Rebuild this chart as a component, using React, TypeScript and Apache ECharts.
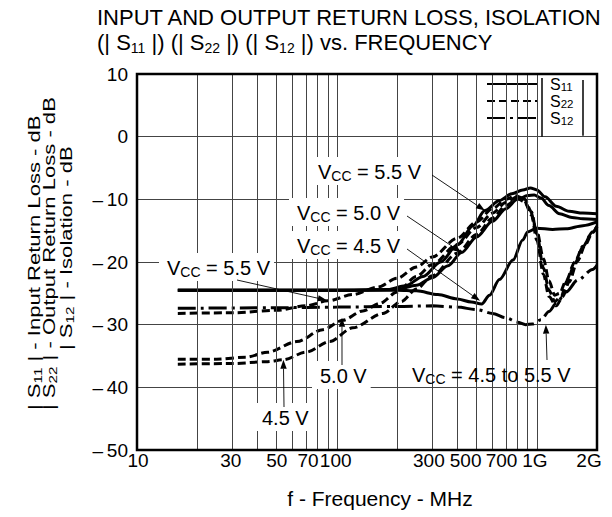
import React, { useEffect, useRef } from "react";
import * as echarts from "echarts";

const FONT = "'Liberation Sans', Arial, Helvetica, sans-serif";

type Pt = [number, number];

// frequency (MHz), level (dB)
const s11Vcc55: Pt[] = [[16,-24.5],[100,-24.5],[180,-24.4],[220,-23.8],[270,-22.3],[330,-20],[400,-17.3],[480,-14.2],[550,-11.8],[650,-10.2],[750,-9.1],[850,-8.5],[930,-8.2],[1000,-8.5],[1100,-9.6],[1250,-11.1],[1450,-11.9],[1700,-12.2],[2000,-12.3]];
const s11Vcc50: Pt[] = [[16,-24.5],[100,-24.5],[200,-24.4],[250,-23.7],[300,-22.5],[360,-20.6],[420,-18.5],[500,-16],[600,-13.5],[700,-11.5],[800,-10],[900,-9.4],[970,-9.3],[1050,-9.8],[1150,-11],[1300,-12.3],[1500,-12.9],[1700,-13.1],[2000,-13.2]];
const s11Vcc45: Pt[] = [[16,-24.5],[100,-24.5],[200,-24.5],[250,-24.6],[320,-25.2],[400,-25.9],[470,-26.4],[530,-26.7],[580,-25.3],[650,-22.8],[760,-19.7],[850,-16.5],[900,-15.2],[1000,-14.6],[1200,-14.8],[1400,-14.7],[1700,-14.2],[2000,-13.6]];
const s22Vcc55: Pt[] = [[16,-28.2],[30,-28.1],[50,-27.7],[70,-27],[90,-26.2],[120,-25.2],[160,-24],[200,-22.6],[250,-20.8],[300,-19.2],[400,-16.2],[500,-13.6],[600,-11.5],[700,-10],[780,-9.4],[850,-9.8],[920,-11.5],[1000,-15],[1080,-19.5],[1150,-23],[1230,-25.3],[1300,-25],[1400,-23],[1550,-20],[1700,-17.5],[1900,-15.2],[2000,-14.3]];
const s22Vcc50: Pt[] = [[16,-35.5],[25,-35.5],[35,-35.2],[45,-34.4],[63,-32.7],[85,-30.8],[107,-29.3],[135,-27.8],[164,-26.6],[200,-24.8],[250,-22.3],[300,-20.4],[400,-17.2],[500,-14.5],[600,-12.2],[700,-10.5],[800,-9.6],[870,-10],[940,-12],[1000,-15.5],[1080,-21],[1150,-24.5],[1230,-26.3],[1320,-25.5],[1420,-23],[1550,-20.2],[1700,-17.6],[1900,-15.2],[2000,-14.3]];
const s22Vcc45: Pt[] = [[16,-36.3],[30,-36.2],[45,-35.9],[54,-35.6],[70,-34.4],[92,-32.7],[120,-30.5],[170,-28.2],[210,-26.3],[250,-24.3],[300,-22.2],[400,-18.6],[500,-15.6],[600,-13],[700,-11],[800,-9.9],[870,-10.4],[940,-12.5],[1000,-16.5],[1080,-22],[1150,-25.5],[1250,-27],[1350,-25.5],[1450,-23.2],[1600,-19.8],[1750,-17.2],[1900,-15.3],[2000,-14.4]];
const s12All: Pt[] = [[16,-27.4],[50,-27.3],[100,-27.2],[200,-27.1],[300,-27],[400,-27.2],[500,-27.6],[600,-28.2],[700,-28.9],[800,-29.6],[880,-30],[950,-29.9],[1050,-29.2],[1150,-27.9],[1250,-26.6],[1400,-24.8],[1600,-22.9],[1900,-21.2],[2000,-20.5]];

const xMin = 10;
const xMax = 2000;
const yMin = -50;
const yMax = 10;
const yStep = 10;
const xGridValues = [20, 30, 40, 50, 60, 70, 80, 90, 100, 200, 300, 400, 500, 600, 700, 800, 900, 1000];
const xTickValues = [10, 30, 50, 70, 100, 300, 500, 700, 1000, 2000];
const xTickLabels = ["10", "30", "50", "70", "100", "300", "500", "700", "1G", "2G"];
const legendNames = ["S11", "S22", "S12"];

// annotation texts and the data point each arrow points to
const annTexts = ["5.5 V", "5.0 V", "4.5 V", "5.5 V", "5.0 V", "4.5 V", "4.5 to 5.5 V"];
const annTips: Pt[] = [[550, -11.8], [420, -18.5], [520, -26.2], [89, -26.1], [106, -28.9], [54, -35.6], [1110, -30]];

// layout (pixels) for annotations: text left, text center y, leader start x,y, vcc prefix, white box
const annLayout = [
  { x: 318, y: 171, sx: 432, sy: 175, vcc: true, box: true },
  { x: 297, y: 212, sx: 407, sy: 216, vcc: true, box: true },
  { x: 297, y: 245, sx: 407, sy: 249, vcc: true, box: true },
  { x: 167, y: 267, sx: 237, sy: 280, vcc: true, box: true },
  { x: 320, y: 375, sx: 342, sy: 365, vcc: false, box: true },
  { x: 262, y: 417, sx: 284, sy: 407, vcc: false, box: true },
  { x: 412, y: 375, sx: 547, sy: 360, vcc: true, box: false },
];
const xTickNudge = [1, -1.6, 0, 2, -1.2, -3.4, -11, -4.3, -2, -8];

export default function App() {
  const ref = useRef<HTMLDivElement>(null);

  useEffect(() => {
    document.body.style.margin = "0";
    const el = ref.current!;
    const chart = echarts.init(el, undefined, { renderer: "svg" });

    const mk = (name: string, data: Pt[], type: any) => ({
      type: "line",
      name,
      data,
      symbol: "none",
      showSymbol: false,
      smooth: 0.3,
      smoothMonotone: "x",
      silent: true,
      z: 3,
      itemStyle: { color: "#000" },
      lineStyle: { color: "#000", width: 3, type, cap: "butt" },
    });
    const dash = [8, 4];
    const dashDot = [18, 5, 3, 5];

    chart.setOption({
      animation: false,
      title: {
        left: 97,
        top: 5,
        padding: 0,
        text:
          "{t|INPUT AND OUTPUT RETURN LOSS, ISOLATION}\n{t|(| S}{s|11}{t| |) (| S}{s|22}{t| |) (| S}{s|12}{t| |) vs. FREQUENCY}",
        textStyle: {
          fontWeight: "normal",
          rich: {
            t: { fontSize: 22, fontFamily: FONT, fontWeight: "normal", color: "#000", lineHeight: 25 },
            s: { fontSize: 14, fontFamily: FONT, fontWeight: "normal", color: "#000", lineHeight: 16, verticalAlign: "bottom" },
          },
        },
      },
      grid: { left: 137, top: 74, width: 460, height: 376, containLabel: false },
      xAxis: {
        type: "log",
        logBase: 10,
        min: xMin,
        max: xMax,
        axisLabel: { show: false },
        axisTick: { show: false },
        axisLine: { show: false },
        splitLine: { show: false },
      },
      yAxis: {
        type: "value",
        min: yMin,
        max: yMax,
        interval: yStep,
        axisTick: { show: false },
        axisLine: { show: false },
        axisLabel: {
          color: "#000",
          fontSize: 19,
          fontFamily: FONT,
          margin: 9,
          formatter: (v: number) => (v < 0 ? "\u2013\u2009" + Math.abs(v) : String(v)),
        },
        splitLine: { lineStyle: { color: "#444", width: 1 } },
      },
      legend: {
        left: 486,
        top: 76,
        orient: "vertical",
        itemWidth: 50,
        itemHeight: 14,
        itemGap: 0,
        selectedMode: false,
        padding: 0,
        data: legendNames,
        itemStyle: { opacity: 0 },
        formatter: (n: string) => `{a|S}{b|${n.slice(1)}}`,
        textStyle: {
          padding: [0, 0, 0, 8],
          rich: {
            a: { fontSize: 16, fontFamily: FONT, color: "#000", lineHeight: 18 },
            b: { fontSize: 11.5, fontFamily: FONT, color: "#000", lineHeight: 14, verticalAlign: "bottom" },
          },
        },
      },
      series: [
        {
          type: "line",
          name: "grid",
          data: [],
          z: 1,
          silent: true,
          markLine: {
            silent: true,
            symbol: ["none", "none"],
            label: { show: false },
            lineStyle: { color: "#444", width: 1, type: "solid" },
            emphasis: { disabled: true },
            data: xGridValues.map((v) => ({ xAxis: v })),
          },
        },
        mk("S11", s11Vcc55, "solid"),
        mk("S11", s11Vcc50, "solid"),
        mk("S11", s11Vcc45, "solid"),
        mk("S22", s22Vcc55, dash),
        mk("S22", s22Vcc50, dash),
        mk("S22", s22Vcc45, dash),
        mk("S12", s12All, dashDot),
      ],
    });

    const px = (f: number, v: number) => chart.convertToPixel({ gridIndex: 0 }, [f, v]) as number[];
    const tl = px(xMin, yMax);
    const br = px(xMax, yMin);
    const zero = px(xMin, 0);
    const g500 = px(500, 0);

    const vccRich = {
      a: { fontSize: 20, fontFamily: FONT, fill: "#000", lineHeight: 22 },
      b: { fontSize: 14, fontFamily: FONT, fill: "#000", lineHeight: 16, verticalAlign: "bottom" },
    };
    const sRich = {
      a: { fontSize: 16, fontFamily: FONT, fill: "#000", lineHeight: 18 },
      b: { fontSize: 11, fontFamily: FONT, fill: "#000", lineHeight: 12, verticalAlign: "bottom" },
    };

    const graphics: any[] = [];

    // blank legend area
    graphics.push({
      type: "rect",
      z: 2,
      silent: true,
      shape: { x: g500[0] + 1.5, y: tl[1] + 1.5, width: br[0] - g500[0] - 3, height: zero[1] - tl[1] - 2.5 },
      style: { fill: "#fff" },
    });
    // legend absolute-value bars
    graphics.push({ type: "line", z: 5, silent: true, shape: { x1: 542, y1: 78, x2: 542, y2: zero[1] }, style: { stroke: "#000", lineWidth: 1.5 } });
    graphics.push({ type: "line", z: 5, silent: true, shape: { x1: 583, y1: 80, x2: 583, y2: zero[1] - 1 }, style: { stroke: "#000", lineWidth: 1.5 } });

    // annotations
    annTexts.forEach((t, i) => {
      const L = annLayout[i];
      const text = L.vcc ? `{a|V}{b|CC}{a| = ${t}}` : `{a|${t}}`;
      const padL = L.box ? 8 : 0;
      graphics.push({
        type: "text",
        z: 6,
        silent: true,
        x: L.x - padL,
        y: L.y,
        style: {
          text,
          rich: vccRich,
          fill: "#000",
          align: "left",
          verticalAlign: "middle",
          backgroundColor: L.box ? "#fff" : undefined,
          padding: L.box ? [4, 4, 2, padL] : 0,
        },
      });
      const tip = px(annTips[i][0], annTips[i][1]);
      const dx = tip[0] - L.sx;
      const dy = tip[1] - L.sy;
      const len = Math.sqrt(dx * dx + dy * dy);
      const ux = dx / len;
      const uy = dy / len;
      const ah = 9;
      const aw = 3.2;
      const bx = tip[0] - ux * ah;
      const by = tip[1] - uy * ah;
      graphics.push({
        type: "line",
        z: 7,
        silent: true,
        shape: { x1: L.sx, y1: L.sy, x2: bx, y2: by },
        style: { stroke: "#000", lineWidth: 0.9 },
      });
      graphics.push({
        type: "polygon",
        z: 7,
        silent: true,
        shape: {
          points: [
            [tip[0], tip[1]],
            [bx - uy * aw, by + ux * aw],
            [bx + uy * aw, by - ux * aw],
          ],
        },
        style: { fill: "#000" },
      });
    });

    // x tick labels
    xTickValues.forEach((v, i) => {
      const p = px(v, yMin);
      graphics.push({
        type: "text",
        z: 6,
        silent: true,
        x: p[0] + xTickNudge[i],
        y: br[1] + 10,
        style: { text: xTickLabels[i], font: `19px ${FONT}`, fill: "#000", align: "center", verticalAlign: "middle" },
      });
    });

    // axis titles
    graphics.push({
      type: "text",
      z: 6,
      silent: true,
      x: 380,
      y: 498,
      style: { text: "f - Frequency - MHz", font: `21px ${FONT}`, fill: "#000", align: "center", verticalAlign: "middle" },
    });
    const yTitles = [
      { x: 35, y: 410, text: "{a|| S}{b|11}{a| | - Input Return Loss - dB}" },
      { x: 50, y: 410, text: "{a|| S}{b|22}{a| | - Output Return Loss - dB}" },
      { x: 67, y: 350, text: "{a|| S}{b|12}{a| | - Isolation - dB}" },
    ];
    yTitles.forEach((t) => {
      graphics.push({
        type: "text",
        z: 6,
        silent: true,
        x: t.x,
        y: t.y,
        rotation: Math.PI / 2,
        scaleX: 1.38,
        style: { text: t.text, rich: sRich, fill: "#000", align: "left", verticalAlign: "middle" },
      });
    });

    // plot border
    graphics.push({
      type: "rect",
      z: 20,
      silent: true,
      shape: { x: tl[0], y: tl[1], width: br[0] - tl[0], height: br[1] - tl[1] },
      style: { fill: "none", stroke: "#000", lineWidth: 2.5 },
    });

    chart.setOption({ graphic: graphics });

    return () => chart.dispose();
  }, []);

  return <div ref={ref} style={{ width: 612, height: 517 }} />;
}
